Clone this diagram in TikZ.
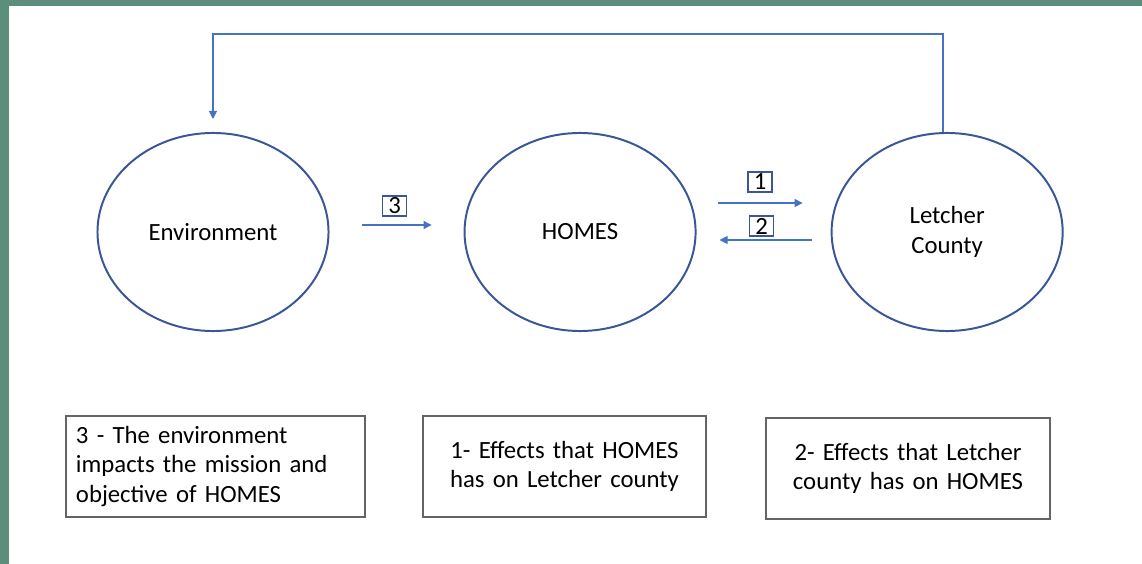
\documentclass[tikz,border=0pt]{standalone}
\usepackage{fontspec}
\setmainfont{Carlito}
\usetikzlibrary{shapes, positioning, arrows.meta, calc}
\definecolor{frame}{RGB}{91,143,124}
\definecolor{ringblue}{RGB}{59,86,150}
\definecolor{flowblue}{RGB}{68,114,196}
\definecolor{boxgray}{RGB}{100,100,100}

\begin{document}
\begin{tikzpicture}[x=0.025cm, y=-0.025cm,
  every node/.style={font=\fontsize{17.6}{21}\selectfont},
  ring/.style={ellipse, draw=ringblue, line width=1.4pt, minimum width=5.775cm, minimum height=4.95cm, inner sep=0pt},
  flow/.style={draw=flowblue, line width=0.8pt, -{Triangle[length=2mm,width=2mm]}},
  numbox/.style={draw=ringblue, line width=1.2pt, inner sep=1pt, minimum width=0.6cm, minimum height=0.5cm},
  notebox/.style={draw=boxgray, line width=0.9pt, minimum height=2.525cm, inner xsep=0.25cm}]

%// frame and page
\fill[frame] (0,0) rectangle (1142,564);
\fill[white] (9,6) rectangle (1142,564);
\useasboundingbox (0,0) rectangle (1142,564);

%// the three rings
\node[ring] (env) at (213,232) {Environment};
\node[ring, right=3.35cm of env] (homes) {HOMES};
\node[ring, right=3.35cm of homes, align=center] (letcher) {Letcher\\County};

%// arrow 3
\coordinate (in3) at ($(env.east)+(32,-7)$);
\coordinate (out3) at ($(homes.west)+(-32,-7)$);
\draw[flow] (in3) -- (out3);
\node[numbox] (n3) at ($(in3)!0.5!(out3)+(-2,-19)$) {3};

%// arrow 1
\coordinate (in1) at ($(homes.east)+(21,-29)$);
\coordinate (out1) at ($(letcher.west)+(-28,-29)$);
\draw[flow] (in1) -- (out1);
\node[numbox] (n1) at ($(in1)!0.5!(out1)+(0,-21)$) {1};

%// arrow 2
\coordinate (in2) at ($(letcher.west)+(-19,8)$);
\coordinate (out2) at ($(homes.east)+(23,8)$);
\draw[flow] (in2) -- (out2);
\node[numbox] (n2) at ($(in2)!0.5!(out2)+(-4,-14)$) {2};

%// feedback loop
\coordinate (top) at (943,34);
\draw[flow, shorten >=0.325cm] (letcher.north -| top) -- (top) -| (env.north);

%// notes
\node[notebox, text width=6.975cm, align=left] (note3) at (215.5,466.5) {3 - The environment\\impacts the mission and\\objective of HOMES};
\node[notebox, text width=6.575cm, align=center] (note1) at (564.5,466.5) {1- Effects that HOMES\\has on Letcher county};
\node[notebox, text width=6.6cm, align=center] (note2) at (908,468.5) {2- Effects that Letcher\\county has on HOMES};
\end{tikzpicture}
\end{document}
